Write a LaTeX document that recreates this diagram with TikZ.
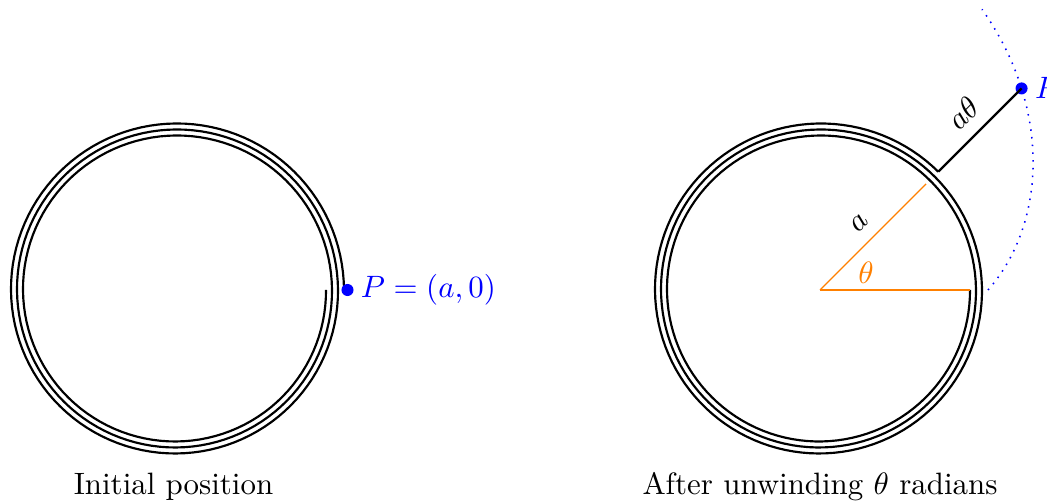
\documentclass[tikz,border=0pt]{standalone}
\begin{document}
\begin{tikzpicture}[x=0.3236pt,y=0.3236pt,
  spiral/.style={line width=0.7pt,black},
  radius line/.style={orange,line width=0.4pt},
  trail/.style={blue,dotted,line width=0.5pt},
  ptdot/.style={circle,fill=blue,inner sep=0pt,minimum size=3.9pt},
  ptlabel/.style={text=blue,anchor=west,inner sep=2pt},
  caption/.style={inner sep=0pt}]
\useasboundingbox (0,0) rectangle (1047,501);
% ---------- left: initial position ----------
\coordinate (c1) at (176,211);
\begin{scope}[shift={(c1)}]
  \draw[spiral] plot[domain=0:1080,samples=361,variable=\t] ({-\t}:{150+6*\t/360});
  \node[ptdot] (p1) at (0:171.5) {};
\end{scope}
\node[ptlabel] (p1lab) at (p1.east) {$P=(a,0)$};
\node[caption] (cap1) at (173.5,14) {Initial position};
% ---------- right: after unwinding ----------
\coordinate (c2) at (820,211);
\begin{scope}[shift={(c2)}]
  \draw[spiral] plot[domain=0:1035,samples=361,variable=\t] ({-\t}:{150+6*\t/360});
  \draw[trail] plot[domain=0:60,samples=60,variable=\t] ({\t}:{168+2.6014*\t});
  \coordinate (e2) at (45:167.25);
  \coordinate (a2) at (45:150);
  \coordinate (b2) at (0:150);
  \node[ptdot] (p2) at (45:285.05) {};
  \node[text=orange] (th) at (20:49) {$\theta$};
\end{scope}
\draw[radius line] (c2) -- node[above,sloped,text=black,inner sep=4pt] {$a$} (a2);
\draw[radius line] (c2) -- (b2);
\draw[line width=0.7pt] (e2) -- node[above,sloped,inner sep=4pt] {$a\theta$} (p2.center);
\node[ptlabel] (p2lab) at (p2.east) {$P$};
\node[caption] (cap2) at (820,14) {After unwinding $\theta$ radians};
\end{tikzpicture}
\end{document}
